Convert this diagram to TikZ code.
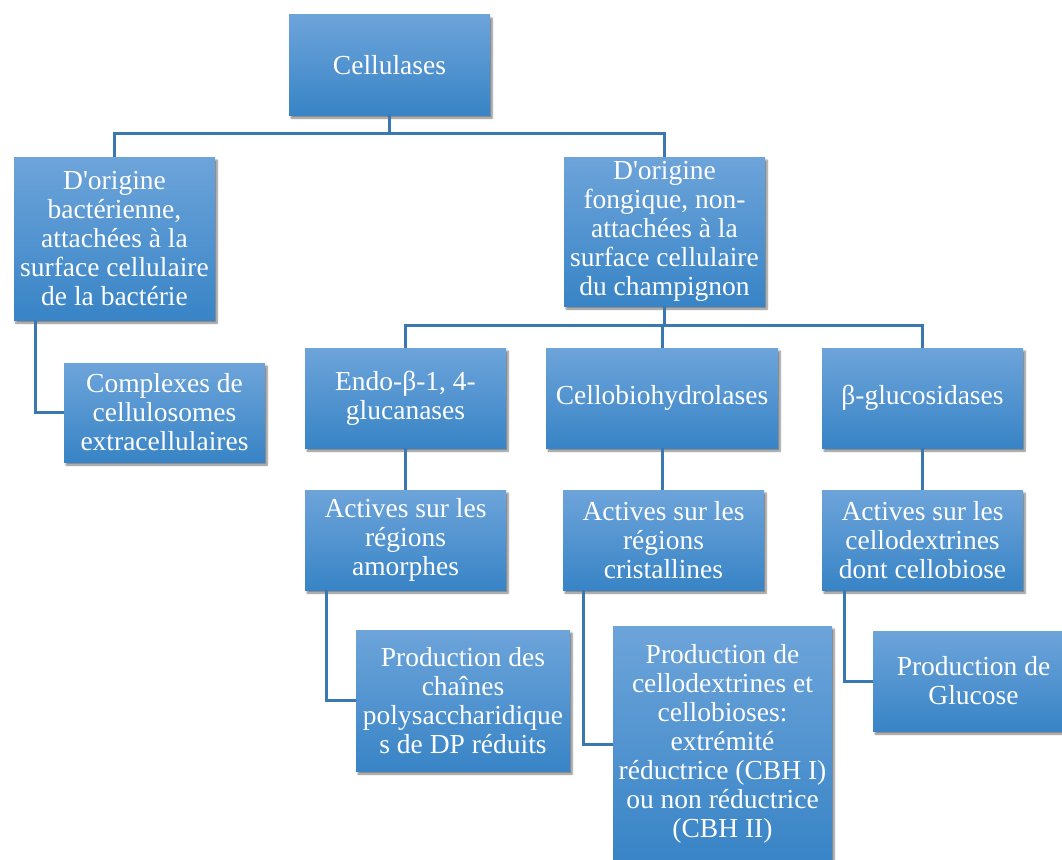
\documentclass[tikz,border=0pt]{standalone}
\usepackage{fontspec}
\setmainfont{Liberation Serif}
\usetikzlibrary{shadows.blur}
\definecolor{boxtop}{HTML}{6DA4DA}
\definecolor{boxbot}{HTML}{3884C6}
\definecolor{linkblue}{HTML}{3A78B2}

\begin{document}
\begin{tikzpicture}[x=1pt,y=-1pt,
	bluebox/.style={rectangle,top color=boxtop,bottom color=boxbot,text=white,align=center,
		font=\fontsize{27.5}{29}\selectfont,inner sep=0pt,minimum width=201,minimum height=100,
		blur shadow={shadow xshift=2pt,shadow yshift=-3pt,shadow opacity=50,shadow blur steps=6}},
	link/.style={draw=linkblue,line width=3pt}]
		\useasboundingbox (0,0) rectangle (1062,859);
		\node[bluebox] (cell) at (389.5,65) {Cellulases};
		\node[bluebox,minimum height=163] (bact) at (114.5,238.5) {D\textquotesingle origine\\bactérienne,\\attachées à la\\surface cellulaire\\de la bactérie};
		\node[bluebox,minimum height=149] (fong) at (664.5,231.5) {D\textquotesingle origine\\fongique, non-\\attachées à la\\surface cellulaire\\du champignon};
		\node[bluebox,minimum height=99] (comp) at (164.5,412.5) {Complexes de\\cellulosomes\\extracellulaires};
		\node[bluebox] (endo) at (405.5,398) {Endo-β-1, 4-\\glucanases};
		\node[bluebox,minimum width=232] (cbh) at (662,398) {Cellobiohydrolases};
		\node[bluebox] (glu) at (922.5,398) {β-glucosidases};
		\node[bluebox] (act1) at (405.5,540) {Actives sur les\\régions\\amorphes};
		\node[bluebox] (act2) at (663.5,540) {Actives sur les\\régions\\cristallines};
		\node[bluebox] (act3) at (922.5,540) {Actives sur les\\cellodextrines\\dont cellobiose};
		\node[bluebox,minimum width=214,minimum height=141] (prod1) at (463,700.5) {Production des\\chaînes\\polysaccharidique\\s de DP réduits};
		\node[bluebox,minimum width=219,minimum height=236] (prod2) at (722.5,744) {Production de\\cellodextrines et\\cellobioses:\\extrémité\\réductrice (CBH I)\\ou non réductrice\\(CBH II)};
		\node[bluebox] (prod3) at (973.5,681) {Production de\\Glucose};
		\draw[link] (cell.south) -- ++(0,18) -| (bact.north);
		\draw[link] (cell.south) -- ++(0,18) -| (fong.north);
		\draw[link] (fong.south) -- ++(0,19) -| (endo.north);
		\draw[link] (fong.south) -- ++(0,19) -| (cbh.north);
		\draw[link] (fong.south) -- ++(0,19) -| (glu.north);
		\draw[link] ([xshift=22pt]bact.south west) |- (comp.west);
		\draw[link] (endo.south) -- (act1.north);
		\draw[link] (cbh.south) -- (cbh.south |- act2.north);
		\draw[link] (glu.south) -- (act3.north);
		\draw[link] ([xshift=22pt]act1.south west) |- (prod1.west);
		\draw[link] ([xshift=21pt]act2.south west) |- (prod2.west);
		\draw[link] ([xshift=23pt]act3.south west) |- (prod3.west);
\end{tikzpicture}
\end{document}
